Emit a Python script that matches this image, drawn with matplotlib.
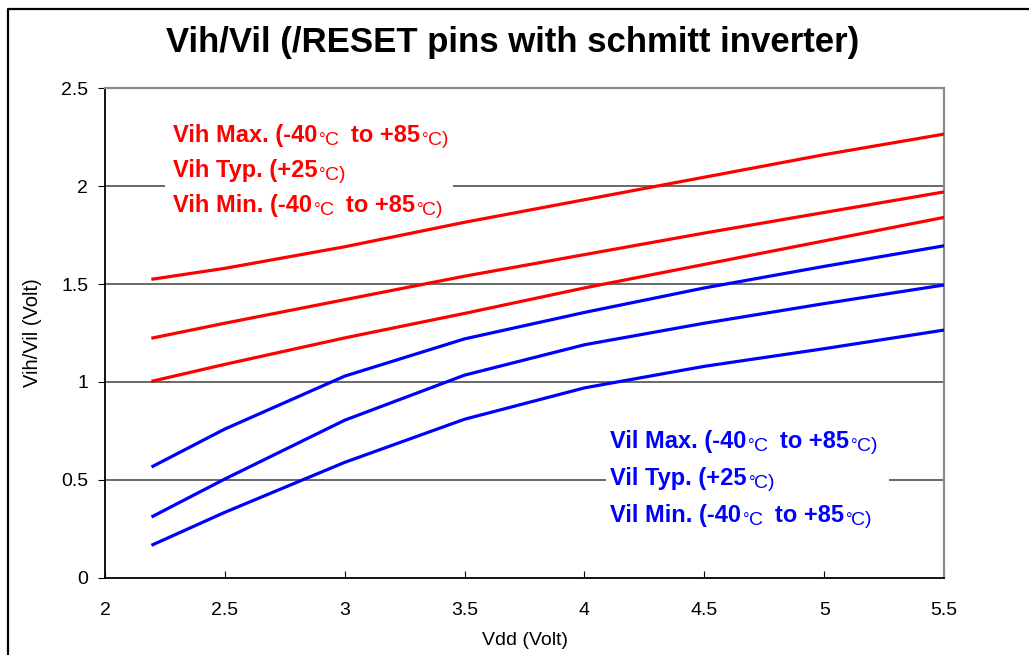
import matplotlib
matplotlib.use("Agg")
import matplotlib.pyplot as plt
from matplotlib.lines import Line2D
from matplotlib.patches import Rectangle
from matplotlib.transforms import offset_copy

plt.rcParams["font.family"] = ["Liberation Sans", "DejaVu Sans"]

vdd = [2.2, 2.5, 3.0, 3.5, 4.0, 4.5, 5.0, 5.5]
vih_max = [1.525, 1.58, 1.69, 1.815, 1.93, 2.045, 2.16, 2.265]
vih_typ = [1.225, 1.30, 1.42, 1.54, 1.65, 1.76, 1.865, 1.97]
vih_min = [1.005, 1.09, 1.225, 1.35, 1.48, 1.60, 1.72, 1.84]
vil_max = [0.57, 0.76, 1.03, 1.22, 1.355, 1.48, 1.59, 1.695]
vil_typ = [0.315, 0.505, 0.805, 1.035, 1.19, 1.30, 1.40, 1.495]
vil_min = [0.17, 0.335, 0.59, 0.81, 0.97, 1.08, 1.17, 1.265]

# (text before first degree sign, text before second degree sign)
vih_labels = [("Vih Max. (-40", "to +85"), ("Vih Typ. (+25", None),
              ("Vih Min. (-40", "to +85")]
vil_labels = [("Vil Max. (-40", "to +85"), ("Vil Typ. (+25", None),
              ("Vil Min. (-40", "to +85")]

RED = "#ff0000"
BLUE = "#0000ff"
DPI = 100

fig = plt.figure(figsize=(10.29, 6.55), dpi=DPI)
ax = fig.add_axes([0.102, 0.1176, 0.8155, 0.748])

# outer chart frame (left and top edges only)
fig.add_artist(Line2D([8 / 1029, 8 / 1029, 1.0], [0.0, 1 - 9 / 655, 1 - 9 / 655],
                      transform=fig.transFigure, color="black", lw=1.6))

for ys in (vih_max, vih_typ, vih_min):
    ax.plot(vdd, ys, color=RED, lw=2.3, zorder=4)
for ys in (vil_max, vil_typ, vil_min):
    ax.plot(vdd, ys, color=BLUE, lw=2.3, zorder=4)

ax.set_xlim(2, 5.5)
ax.set_ylim(0, 2.5)
ax.set_xticks([2, 2.5, 3, 3.5, 4, 4.5, 5, 5.5])
ax.set_xticklabels(["2", "2.5", "3", "3.5", "4", "4.5", "5", "5.5"])
ax.set_yticks([0, 0.5, 1, 1.5, 2, 2.5])
ax.set_yticklabels(["0", "0.5", "1", "1.5", "2", "2.5"])
ax.tick_params(axis="x", direction="in", length=5, labelsize=14, pad=17)
ax.tick_params(axis="y", direction="out", length=5, labelsize=14, pad=7)
for y in (0.5, 1.0, 1.5, 2.0):
    ax.axhline(y, color="#404040", lw=1.1, zorder=1)

for side in ("left", "bottom"):
    ax.spines[side].set_color("black")
    ax.spines[side].set_linewidth(1.3)
for side in ("top", "right"):
    ax.spines[side].set_color("#8c8c8c")
    ax.spines[side].set_linewidth(1.6)

ax.set_xlabel("Vdd (Volt)", fontsize=14, labelpad=10)
ax.set_ylabel("Vih/Vil (Volt)", fontsize=14.5, labelpad=14)
fig.text(0.498, 0.935, "Vih/Vil (/RESET pins with schmitt inverter)",
         ha="center", va="center", fontsize=25, fontweight="bold")

# white boxes behind the text blocks
ax.add_patch(Rectangle((2.25, 1.815), 1.2, 0.55, facecolor="white",
                       edgecolor="none", zorder=2))
ax.add_patch(Rectangle((4.09, 0.235), 1.18, 0.55, facecolor="white",
                       edgecolor="none", zorder=2))

renderer = fig.canvas.get_renderer()


def piece(x_ax, y_ax, dx, dy, txt, color, size, weight="normal"):
    tr = offset_copy(ax.transAxes, fig=fig, x=dx, y=dy, units="dots")
    t = ax.text(x_ax, y_ax, txt, transform=tr, fontsize=size,
                fontweight=weight, color=color, ha="left", va="baseline",
                zorder=5)
    return dx + t.get_window_extent(renderer).width


def degc(x_ax, y_ax, dx, color):
    dx = piece(x_ax, y_ax, dx + 2, -3, "°", color, 12)
    return piece(x_ax, y_ax, dx - 1, -3, "C", color, 14)


def label_block(labels, x0, y_pix, color):
    for (head, mid), yp in zip(labels, y_pix):
        y0 = (578 - yp) / 490
        dx = piece(x0, y0, 0, 0, head, color, 17, "bold")
        dx = degc(x0, y0, dx, color)
        if mid is not None:
            dx = piece(x0, y0, dx + 12, 0, mid, color, 17, "bold")
            dx = degc(x0, y0, dx, color)
        piece(x0, y0, dx, -2, ")", color, 14)


label_block(vih_labels, (173 - 105) / 839, (142, 177, 212), RED)
label_block(vil_labels, (610 - 105) / 839, (448, 485, 522), BLUE)

fig.savefig("out.png", dpi=DPI)
